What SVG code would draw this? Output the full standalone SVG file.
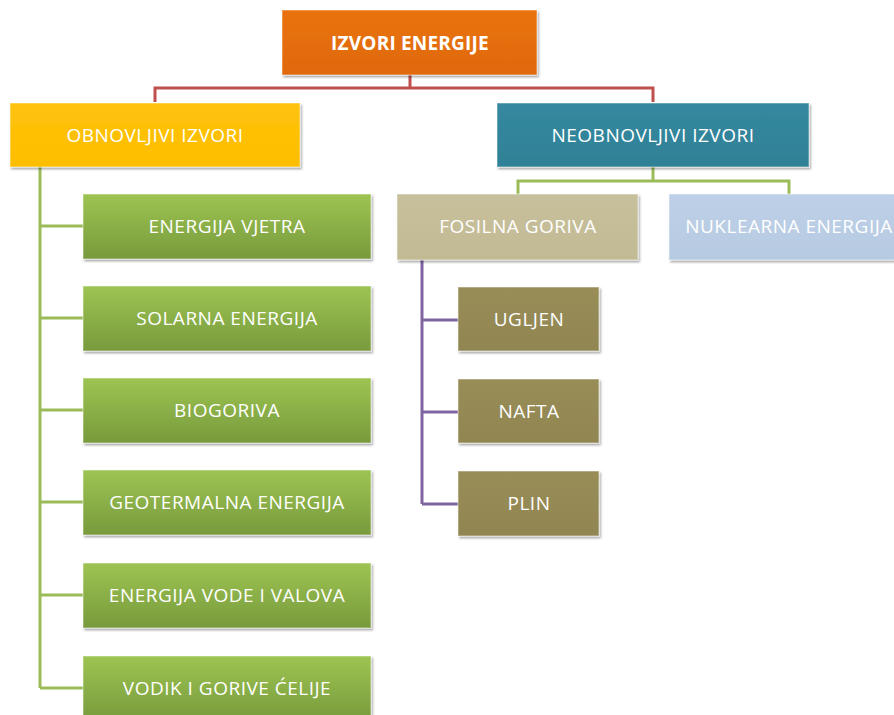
<svg xmlns="http://www.w3.org/2000/svg" width="894" height="715" viewBox="0 0 894 715">
<defs>
<linearGradient id="gOrange" x1="0" y1="0" x2="0" y2="1"><stop offset="0" stop-color="#E8730F"/><stop offset="1" stop-color="#E0690A"/></linearGradient>
<linearGradient id="gYellow" x1="0" y1="0" x2="0" y2="1"><stop offset="0" stop-color="#FFC20A"/><stop offset="1" stop-color="#FDBE00"/></linearGradient>
<linearGradient id="gTeal" x1="0" y1="0" x2="0" y2="1"><stop offset="0" stop-color="#35889F"/><stop offset="1" stop-color="#2F8196"/></linearGradient>
<linearGradient id="gGreen" x1="0" y1="0" x2="0" y2="1"><stop offset="0" stop-color="#9DC452"/><stop offset="1" stop-color="#789A3C"/></linearGradient>
<linearGradient id="gTan" x1="0" y1="0" x2="0" y2="1"><stop offset="0" stop-color="#C7C09C"/><stop offset="1" stop-color="#C2BA93"/></linearGradient>
<linearGradient id="gBlue" x1="0" y1="0" x2="0" y2="1"><stop offset="0" stop-color="#BDD0E7"/><stop offset="1" stop-color="#B6CAE2"/></linearGradient>
<linearGradient id="gOlive" x1="0" y1="0" x2="0" y2="1"><stop offset="0" stop-color="#988D57"/><stop offset="1" stop-color="#918651"/></linearGradient>
<filter id="sh" x="-5%" y="-10%" width="115%" height="130%"><feDropShadow dx="1.5" dy="2" stdDeviation="1.2" flood-color="#000" flood-opacity="0.35"/></filter>
</defs>
<style>
.box{filter:url(#sh);stroke:#ffffff;stroke-opacity:0.35;stroke-width:1.5}
.t{font-family:"Open Sans","Liberation Sans",sans-serif;font-size:19px;letter-spacing:0.5px;fill:#ffffff;text-anchor:middle;dominant-baseline:central}
.tb{font-weight:bold;font-size:19px;letter-spacing:0.2px}
.c{fill:none;stroke-width:3;stroke-linejoin:miter}
</style>
<g id="connectors">
<path class="c" stroke="#C0504D" d="M410 75 V88 M155 102 V88 H653 V102"/>
<path class="c" stroke="#9BBB59" d="M40 167 V688 M40 226 H83 M40 318 H83 M40 410 H83 M40 502 H83 M40 595 H83 M40 688 H83"/>
<path class="c" stroke="#9BBB59" d="M653 167 V181 M518 194 V181 H789 V194"/>
<path class="c" stroke="#8064A2" d="M422 260 V504 M422 320 H458 M422 412 H458 M422 504 H458"/>
</g>
<g id="n-root"><rect class="box" x="282" y="10" width="255" height="65" fill="url(#gOrange)"/><text class="t tb" x="410" y="43">IZVORI ENERGIJE</text></g>
<g id="n-obn"><rect class="box" x="10" y="103" width="290" height="64" fill="url(#gYellow)"/><text class="t" x="155" y="135">OBNOVLJIVI IZVORI</text></g>
<g id="n-neobn"><rect class="box" x="497" y="103" width="312" height="64" fill="url(#gTeal)"/><text class="t" x="653" y="135">NEOBNOVLJIVI IZVORI</text></g>
<g id="n-vjetar"><rect class="box" x="83" y="194" width="288" height="65" fill="url(#gGreen)"/><text class="t" x="227" y="226">ENERGIJA VJETRA</text></g>
<g id="n-solar"><rect class="box" x="83" y="286" width="288" height="65" fill="url(#gGreen)"/><text class="t" x="227" y="318">SOLARNA ENERGIJA</text></g>
<g id="n-bio"><rect class="box" x="83" y="378" width="288" height="65" fill="url(#gGreen)"/><text class="t" x="227" y="410">BIOGORIVA</text></g>
<g id="n-geo"><rect class="box" x="83" y="470" width="288" height="65" fill="url(#gGreen)"/><text class="t" x="227" y="502">GEOTERMALNA ENERGIJA</text></g>
<g id="n-voda"><rect class="box" x="83" y="563" width="288" height="65" fill="url(#gGreen)"/><text class="t" x="227" y="595">ENERGIJA VODE I VALOVA</text></g>
<g id="n-vodik"><rect class="box" x="83" y="656" width="288" height="65" fill="url(#gGreen)"/><text class="t" x="227" y="688">VODIK I GORIVE ĆELIJE</text></g>
<g id="n-fosil"><rect class="box" x="397" y="194" width="241" height="66" fill="url(#gTan)"/><text class="t" x="518" y="226">FOSILNA GORIVA</text></g>
<g id="n-nukl"><rect class="box" x="669" y="194" width="240" height="66" fill="url(#gBlue)"/><text class="t" x="789" y="226">NUKLEARNA ENERGIJA</text></g>
<g id="n-ugljen"><rect class="box" x="458" y="287" width="141" height="64" fill="url(#gOlive)"/><text class="t" x="529" y="319">UGLJEN</text></g>
<g id="n-nafta"><rect class="box" x="458" y="379" width="141" height="64" fill="url(#gOlive)"/><text class="t" x="529" y="411">NAFTA</text></g>
<g id="n-plin"><rect class="box" x="458" y="471" width="141" height="65" fill="url(#gOlive)"/><text class="t" x="529" y="503">PLIN</text></g>
</svg>
